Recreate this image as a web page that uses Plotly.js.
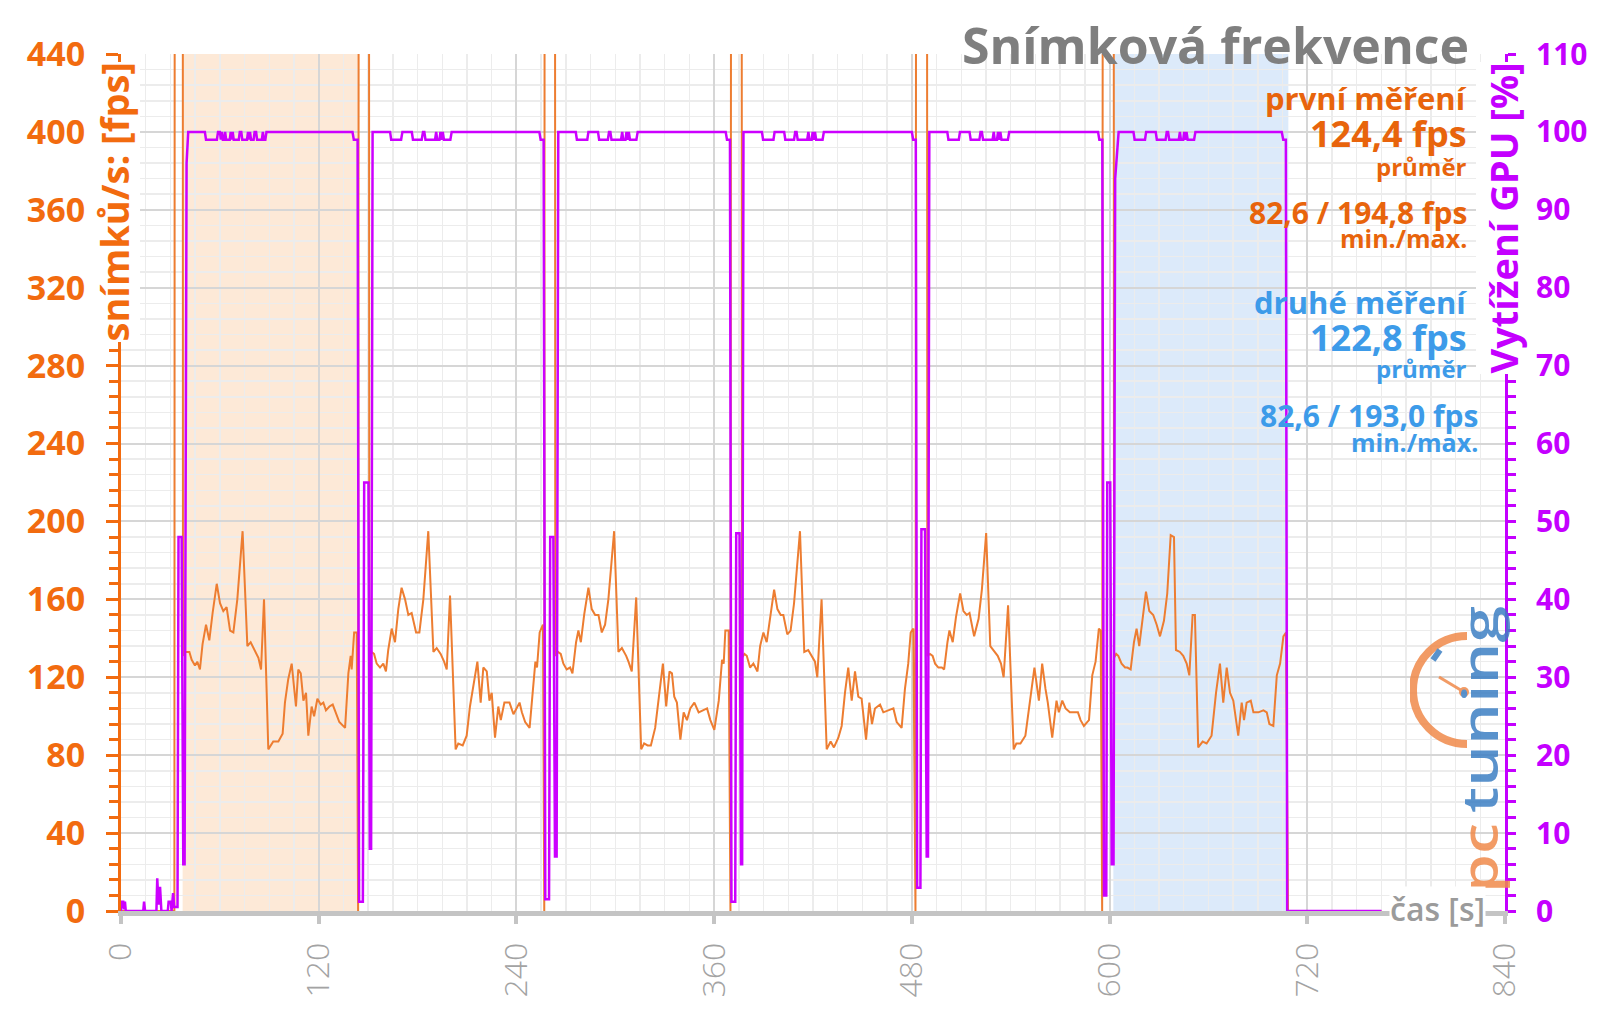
<!DOCTYPE html>
<html>
<head>
<meta charset="utf-8">
<script src="https://cdn.plot.ly/plotly-3.0.1.min.js"></script>
<style>
  html, body { margin: 0; padding: 0; background: #fff; }
  #chart { width: 1600px; height: 1009px; }
</style>
</head>
<body>
<div id="chart"></div>
<script>
// fps samples as [time s, fps]; values above 440 are the loading-screen spikes off the top of the chart
const fpsIntro = [[0,0],[32.4,0],[32.8,1000],[37.4,1000]];
const fpsRun1 = [[37.6,131],[38.8,133],[41.5,133],[42.9,129],[44.9,126],[46.3,128],[47.9,124],[49.5,137],[51.6,147],[53.6,139],[55.6,153],[58.1,168],[60.1,158],[62.1,154],[64.1,156],[66.2,144],[68.2,143],[70.6,160],[73.8,195],[76.7,136],[78.7,138],[81.3,134],[83.4,130],[85,124],[86.8,160],[89.4,83],[92.4,87],[95.5,87],[98.1,91],[99.5,107],[101.5,119],[103.6,127],[106.2,105],[107.6,124],[109.1,122],[110.7,108],[112.3,112],[113.7,90],[115.7,105],[117.2,100],[119.2,109],[121.2,106],[122.8,107],[124.4,103],[126.5,105],[128.5,106],[130.5,102],[132.5,97],[136,94],[138,122],[139.4,131],[140,124],[141.5,143],[143.1,143],[143.9,0],[144.6,1000],[150.3,1000]];
const fpsRun2 = [[150.7,131],[152,133],[153.6,132],[155.2,127],[157.2,125],[159.2,127],[160.8,123],[162.2,134],[164.3,145],[166.3,138],[168.3,155],[170.3,166],[172.4,160],[174.4,152],[176.4,153],[179.1,143],[181.1,143],[183.5,160],[186.5,195],[189.6,133],[191.6,135],[194,132],[196.1,128],[197.7,124],[199.7,162],[203.1,83],[204.7,86],[207.4,85],[209.8,90],[211.8,105],[214.3,119],[216.3,128],[218.3,107],[219.9,125],[222,123],[223.6,108],[225,112],[227,89],[229,105],[230.5,98],[232.7,107],[235.8,107],[238.2,101],[240.2,104],[241.9,107],[243.3,102],[245.3,97],[248,94],[250,115],[251.5,128],[252.5,125],[254.1,143],[256.1,147],[256.9,0],[257.3,1000],[263.2,1000]];
const fpsRun3 = [[263.6,131],[265.2,133],[266.9,132],[268.5,127],[270.5,124],[272.6,125],[274,122],[276.2,138],[277.6,144],[279.1,138],[281.1,152],[283.7,166],[285.7,155],[287.8,152],[289.8,152],[291.8,143],[293.8,147],[295.8,160],[299.3,195],[301.9,133],[304,135],[306.6,131],[308,128],[310,123],[312.7,161],[315.7,83],[317.5,86],[319.6,85],[321.6,85],[324.2,94],[326.2,108],[328.9,127],[330.9,105],[332.9,123],[334.4,122],[335.8,110],[337.4,107],[339.5,88],[341.5,102],[343.5,98],[345.5,104],[348,107],[350.6,102],[353.7,103],[355.7,104],[357.7,98],[360.1,93],[362.8,108],[364.8,129],[365.8,127],[366.8,144],[368.8,144],[369.9,0],[370.6,1000],[376.5,1000]];
const fpsRun4 = [[376.9,130],[378.4,132],[379.8,131],[381.8,125],[383.8,127],[386.3,123],[387.9,136],[389.9,143],[391.9,138],[393.9,151],[396.4,165],[398.4,155],[400.4,152],[402,152],[404.4,142],[406.4,144],[408.5,158],[412.1,195],[414.7,133],[417.1,134],[419.2,131],[421.2,128],[422.6,120],[425.2,160],[428.3,83],[430.7,87],[432.7,84],[435.4,89],[437.4,95],[439.4,112],[441.4,125],[443.5,108],[445.5,123],[447.5,110],[449.5,109],[452.2,88],[454.2,107],[455.8,96],[457.6,104],[460.7,106],[462.7,102],[465.7,103],[468.8,104],[470.8,97],[473.8,94],[475.8,114],[477.8,127],[479.3,143],[480.9,145],[482.2,0],[482.9,1000],[489,1000]];
const fpsRun5 = [[489.4,131],[491,132],[492.6,131],[494.1,127],[496.1,125],[498.2,125],[499.6,124],[501.6,138],[502.8,144],[504.8,138],[506.8,151],[509.3,163],[511.3,154],[513.3,152],[515,153],[517.8,141],[520.5,150],[522.5,165],[525.1,194],[527.6,136],[529.6,134],[532.1,131],[534.1,127],[535.7,120],[538.4,157],[541.8,83],[543.4,86],[545.9,86],[548.9,90],[551.6,108],[554.4,125],[557.1,108],[559.1,127],[561.1,114],[562.5,107],[565.2,89],[567.8,108],[569.2,102],[571.3,108],[573.3,104],[575.9,102],[578.8,102],[580.8,102],[582.4,98],[584.4,95],[586.4,97],[587.5,98],[589.5,121],[591.5,128],[593.5,145],[594.6,144],[595.5,0],[596.2,1000],[602.3,1000]];
const fpsRun6 = [[602.7,130],[604,132],[605.3,131],[607.3,127],[609.4,125],[610.8,125],[612.8,124],[614.8,138],[616.4,145],[618,136],[620.1,152],[622.1,164],[624.1,154],[626.5,152],[628.6,147],[630.6,141],[633,149],[635,163],[637.1,193],[639.1,192],[640.3,134],[642.7,133],[644.7,131],[646.8,127],[648.4,121],[650.4,152],[651.8,152],[653.8,84],[656.5,87],[658.9,86],[661.9,90],[664.6,112],[667,127],[669,107],[671.1,125],[673.1,112],[675.1,108],[678.1,90],[680.2,107],[681.6,98],[683.2,107],[685.7,108],[687.3,102],[690.3,102],[693.4,103],[695.4,102],[697,96],[699.4,95],[701.5,121],[703.5,127],[705.5,141],[707.1,143],[708.3,0],[765,0]];

// GPU load samples as [time s, %]
const gpuIntro = [[0,0],[0.6,1.2],[1.4,1.2],[1.9,0.2],[2.4,1.2],[2.9,0],[13.5,0],[14,1.2],[14.6,0],[21.5,0],[22,4.2],[22.8,0.8],[23.7,3.1],[24.5,0],[28.4,0],[28.9,1.2],[30.2,1.2],[30.7,0],[31.6,2.3],[32.3,0.5],[34.3,0.5],[34.9,48],[36.8,48],[37.8,6],[38.6,6],[39.8,96],[40.8,100]];
const gpuRun1 = [[50.9,100],[51.6,99],[58.2,99],[58.9,100],[60,100],[60.6,99],[61.2,100],[61.8,99],[62.6,99],[63.2,100],[63.8,99],[66,99],[66.6,100],[67.2,99],[67.8,100],[68.4,99],[71.5,99],[72.1,100],[73,100],[73.6,99],[76.5,99],[77.1,100],[77.7,99],[78.3,100],[78.9,99],[80.5,99],[81.1,100],[82,100],[82.6,99],[85.5,99],[86.1,100],[86.7,99],[87.6,99],[88.3,100],[140.5,100],[141.3,99],[143.6,99],[144.5,1.2],[146.8,1.2],[147.6,55],[150.2,55],[151,8],[151.8,8],[152.7,100]];
const gpuRun2 = [[163.3,100],[164,99],[170,99],[170.8,100],[176.5,100],[177.2,99],[182.5,99],[183.3,100],[184.1,100],[184.8,99],[190.6,99],[191.3,100],[191.9,99],[193.3,99],[193.9,100],[194.5,99],[195.3,100],[196,99],[199.9,99],[200.7,100],[253.9,100],[254.7,99],[256.5,99],[257.5,1.5],[259.8,1.5],[260.5,48],[262.4,48],[263.4,7],[264.4,7],[265.4,100]];
const gpuRun3 = [[276,100],[276.7,99],[283,99],[283.7,100],[289.5,100],[290.2,99],[295.5,99],[296.2,100],[297,100],[297.7,99],[303.5,99],[304.2,100],[304.8,99],[306.2,99],[306.8,100],[307.4,99],[308.2,100],[308.9,99],[312.8,99],[313.6,100],[367,100],[367.8,99],[369.6,99],[370.5,1.2],[372.8,1.2],[373.4,48.5],[375.4,48.5],[376.3,6],[377,6],[377.8,100]];
const gpuRun4 = [[389,100],[389.7,99],[396,99],[396.7,100],[402.5,100],[403.2,99],[408.5,99],[409.2,100],[410,100],[410.7,99],[416.5,99],[417.2,100],[417.8,99],[419.2,99],[419.8,100],[420.4,99],[421.2,100],[421.9,99],[425.8,99],[426.6,100],[480,100],[480.8,99],[482.4,99],[483.2,3],[485.2,3],[485.8,49],[488,49],[489,7],[489.8,7],[490.6,100]];
const gpuRun5 = [[501.5,100],[502.2,99],[508.5,99],[509.2,100],[515,100],[515.7,99],[521,99],[521.7,100],[522.5,100],[523.2,99],[529,99],[529.7,100],[530.3,99],[531.7,99],[532.3,100],[532.9,99],[533.7,100],[534.4,99],[538.3,99],[539.1,100],[593,100],[593.8,99],[595.6,99],[596.6,2],[598,2],[598.6,55],[600.4,55],[601.3,6],[602.4,6],[603.4,94],[605.5,100]];
const gpuRun6 = [[614.5,100],[615.2,99],[621.5,99],[622.2,100],[628,100],[628.7,99],[634,99],[634.7,100],[635.5,100],[636.2,99],[642,99],[642.7,100],[643.3,99],[644.7,99],[645.3,100],[645.9,99],[646.7,100],[647.4,99],[651.3,99],[652.1,100],[704.5,100],[705.4,99],[707,99],[707.8,0],[765,0]];

const xTickVals = [0, 120, 240, 360, 480, 600, 720, 840];
const firstRun = [37.4, 144.6];
const secondRun = [602.3, 708.5];

const ORANGE = '#f26b0f';
const ORANGE_TXT = '#e8640c';
const BLUE_TXT = '#3d9be9';
const PURPLE = '#c400ff';
const GRAY = '#7f7f7f';
const FONT = 'Open Sans, Noto Sans, sans-serif';

const fps = [].concat(fpsIntro, fpsRun1, fpsRun2, fpsRun3, fpsRun4, fpsRun5, fpsRun6);
const gpu = [].concat(gpuIntro, gpuRun1, gpuRun2, gpuRun3, gpuRun4, gpuRun5, gpuRun6);

const traces = [
  {
    x: fps.map(p => p[0]), y: fps.map(p => p[1]),
    mode: 'lines', name: 'fps', yaxis: 'y',
    line: {color: '#ed7d31', width: 2}, hoverinfo: 'skip'
  },
  {
    x: gpu.map(p => p[0]), y: gpu.map(p => p[1]),
    mode: 'lines', name: 'GPU', yaxis: 'y2',
    line: {color: '#cc00ff', width: 2.5}, hoverinfo: 'skip'
  }
];

// plot area in pixels, used to place the free texts
const L = 121, R = 1505, T = 54, B = 911;
const px = v => (v - L) / (R - L);
const py = v => (B - v) / (B - T);

function note(text, x, y, size, color, extra) {
  return Object.assign({
    text: text, xref: 'paper', yref: 'paper', x: px(x), y: py(y),
    xanchor: 'right', yanchor: 'middle', showarrow: false,
    font: {family: FONT, size: size, color: color, weight: 'bold'}
  }, extra || {});
}

const logoSvg =
  '<svg xmlns="http://www.w3.org/2000/svg" width="100" height="290" viewBox="0 0 100 290">' +
  '<path d="M 57 33 A 54 54 0 0 0 57 141" fill="none" stroke="#f08a4b" stroke-width="8"/>' +
  '<line x1="29" y1="74" x2="54" y2="89" stroke="#f08a4b" stroke-width="3"/>' +
  '<circle cx="54" cy="89" r="5" fill="#f08a4b"/>' +
  '<line x1="23" y1="57" x2="30" y2="47" stroke="#3d7fc4" stroke-width="6"/>' +
  '<text transform="translate(88,210) rotate(-90)" font-family="Open Sans" font-weight="600" font-size="48" fill="#3d7fc4" textLength="207" lengthAdjust="spacingAndGlyphs">tuning</text>' +
  '<text transform="translate(88,290) rotate(-90)" font-family="Open Sans" font-weight="600" font-size="48" fill="#f08a4b" textLength="70" lengthAdjust="spacingAndGlyphs">pc</text>' +
  '</svg>';

const layout = {
  width: 1600, height: 1009,
  margin: {l: L, r: 1600 - R, t: T, b: 1009 - B},
  paper_bgcolor: '#ffffff', plot_bgcolor: '#ffffff',
  showlegend: false,
  title: {
    text: 'Snímková frekvence', xref: 'container', yref: 'container',
    x: 1469 / 1600, xanchor: 'right', y: 1 - 46 / 1009, yanchor: 'middle',
    font: {family: FONT, size: 50, color: GRAY, weight: 'bold'}
  },
  xaxis: {
    range: [0, 840], tickvals: xTickVals, ticktext: xTickVals.map(String),
    tickangle: -90, tickfont: {family: FONT, size: 32, color: '#a3a3a3', weight: 300},
    ticks: 'outside', ticklen: 8, tickwidth: 4, tickcolor: '#c4c4c4',
    ticklabelstandoff: 6,
    showline: true, linecolor: '#c4c4c4', linewidth: 5,
    showgrid: true, gridcolor: '#d6d6d6', gridwidth: 2,
    minor: {dtick: 15, tick0: 0, showgrid: true, gridcolor: '#ececec', gridwidth: 1.5},
    zeroline: false, fixedrange: true
  },
  yaxis: {
    range: [0, 440], dtick: 40, tick0: 0,
    tickfont: {family: FONT, size: 34, color: ORANGE, weight: 'bold'},
    ticks: 'outside', ticklen: 12, tickwidth: 3, tickcolor: ORANGE,
    ticklabelstandoff: 14,
    showline: true, linecolor: ORANGE, linewidth: 3,
    showgrid: true, gridcolor: '#d6d6d6', gridwidth: 2,
    minor: {dtick: 8, tick0: 0, ticks: 'outside', ticklen: 9, tickwidth: 3, tickcolor: ORANGE,
            showgrid: true, gridcolor: '#ececec', gridwidth: 1.5},
    zeroline: false, fixedrange: true
  },
  yaxis2: {
    overlaying: 'y', side: 'right', range: [0, 110], dtick: 10, tick0: 0,
    tickfont: {family: FONT, size: 30, color: PURPLE, weight: 'bold'},
    ticks: 'outside', ticklen: 8, tickwidth: 3, tickcolor: PURPLE,
    ticklabelstandoff: 14,
    showline: true, linecolor: PURPLE, linewidth: 3,
    showgrid: false, zeroline: false, fixedrange: true,
    minor: {dtick: 2, tick0: 0, ticks: 'outside', ticklen: 8, tickwidth: 3, tickcolor: PURPLE}
  },
  // inner halves of the crossing major ticks
  yaxis3: {
    overlaying: 'y', side: 'left', range: [0, 440], dtick: 40, tick0: 0,
    ticks: 'inside', ticklen: 13, tickwidth: 3, tickcolor: ORANGE,
    showticklabels: false, showgrid: false, showline: false, zeroline: false
  },
  yaxis4: {
    overlaying: 'y', side: 'right', range: [0, 110], dtick: 10, tick0: 0,
    ticks: 'inside', ticklen: 12, tickwidth: 3, tickcolor: PURPLE,
    showticklabels: false, showgrid: false, showline: false, zeroline: false
  },
  shapes: [
    {type: 'rect', xref: 'x', yref: 'paper', x0: firstRun[0], x1: firstRun[1], y0: 0, y1: 1,
     fillcolor: '#fde9d7', line: {width: 0}, layer: 'below'},
    {type: 'rect', xref: 'x', yref: 'paper', x0: secondRun[0], x1: secondRun[1], y0: 0, y1: 1,
     fillcolor: '#dceafa', line: {width: 0}, layer: 'below'}
  ],
  images: [{
    source: 'data:image/svg+xml;charset=utf-8,' + encodeURIComponent(logoSvg),
    xref: 'paper', yref: 'paper', x: px(1410), y: py(603),
    sizex: 100 / (R - L), sizey: 290 / (B - T), xanchor: 'left', yanchor: 'top',
    sizing: 'stretch', layer: 'above', opacity: 0.85
  }],
  annotations: [
    note('snímků/s: [fps]', 113, 62, 38, ORANGE,
         {textangle: -90, xanchor: 'center', yanchor: 'top', bgcolor: '#ffffff', borderpad: 0}),
    note('Vytížení GPU [%]', 1502, 62, 38, PURPLE,
         {textangle: -90, xanchor: 'center', yanchor: 'top', bgcolor: '#ffffff', borderpad: 0}),
    note('čas [s]', 1486, 908, 32, '#9b9b9b',
         {font: {family: FONT, size: 32, color: '#9b9b9b', weight: 600}, bgcolor: '#ffffff', borderpad: 0}),
    note('první měření', 1469, 98, 31, ORANGE_TXT),
    note('124,4 fps', 1469, 133, 36, ORANGE_TXT),
    note('průměr', 1469, 166, 24, ORANGE_TXT),
    note('82,6 / 194,8 fps', 1469, 212, 30, ORANGE_TXT),
    note('min./max.', 1469, 238, 25, ORANGE_TXT),
    note('druhé měření', 1469, 302, 31, BLUE_TXT),
    note('122,8 fps', 1469, 337, 36, BLUE_TXT),
    note('průměr', 1469, 368, 24, BLUE_TXT),
    note('82,6 / 193,0 fps', 1480, 415, 30, BLUE_TXT),
    note('min./max.', 1480, 442, 25, BLUE_TXT)
  ]
};

Plotly.newPlot('chart', traces, layout, {staticPlot: true, displayModeBar: false});
</script>
</body>
</html>
